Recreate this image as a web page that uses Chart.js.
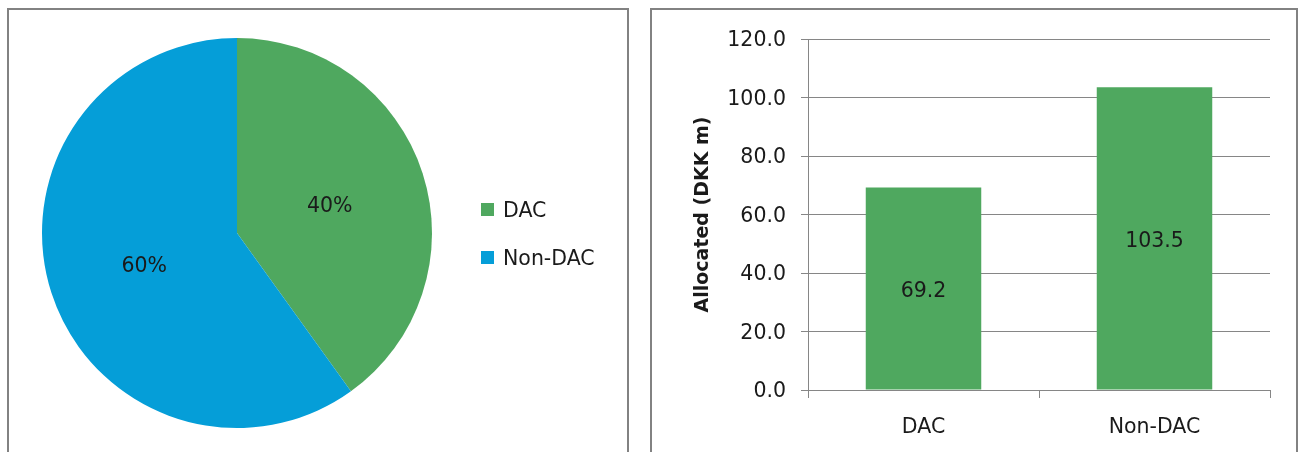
<!DOCTYPE html>
<html>
<head>
<meta charset="utf-8">
<script src="https://cdn.jsdelivr.net/npm/chart.js@4.4.0/dist/chart.umd.min.js"></script>
<style>
  body { margin: 0; background: #fff; width: 1302px; height: 452px; overflow: hidden; position: relative; }
  .panel { position: absolute; top: 8px; height: 600px; border: 2px solid #828282; box-sizing: border-box; }
  #pie_panel { left: 7px; width: 622px; }
  #bar_panel { left: 650px; width: 648px; }
  #pie_chart { position: absolute; left: 0; top: 0; }
  #bar_chart { position: absolute; left: 652px; top: 10px; }
</style>
</head>
<body>
<div class="panel" id="pie_panel"></div>
<div class="panel" id="bar_panel"></div>
<canvas id="pie_chart" width="640" height="452"></canvas>
<canvas id="bar_chart" width="644" height="442"></canvas>
<script>
// allocation split, DKK m
const categories = ['DAC', 'Non-DAC'];
const allocated = [69.2, 103.5];
const category_colors = ['#4FA85F', '#059ED8'];

// y axis range for the bar chart
const y_axis_min = 0;
const y_axis_max = 120;
const y_axis_step = 20;

const text_color = '#1a1a1a';
const grid_gray = '#868686';
const font_family = '"DejaVu Sans", sans-serif';
const label_size = 20.5;

Chart.defaults.font.family = font_family;
Chart.defaults.color = text_color;

// percentage labels sitting halfway out along each slice
const pie_percent_labels = {
    id: 'pie_percent_labels',
    afterDatasetsDraw(chart) {
        const ctx = chart.ctx;
        const data = chart.data.datasets[0].data;
        const total = data.reduce((a, b) => a + b, 0);
        ctx.save();
        ctx.font = label_size + 'px ' + font_family;
        ctx.fillStyle = text_color;
        ctx.textAlign = 'center';
        ctx.textBaseline = 'middle';
        chart.getDatasetMeta(0).data.forEach((arc, i) => {
            const pos = arc.getCenterPoint();
            ctx.fillText(Math.round(data[i] / total * 100) + '%', pos.x, pos.y + 4);
        });
        ctx.restore();
    }
};

// square-swatch legend to the right of the pie
const side_legend = {
    id: 'side_legend',
    afterDraw(chart, args, opts) {
        const ctx = chart.ctx;
        const colors = chart.data.datasets[0].backgroundColor;
        ctx.save();
        ctx.font = label_size + 'px ' + font_family;
        ctx.textAlign = 'left';
        ctx.textBaseline = 'middle';
        chart.data.labels.forEach((label, i) => {
            const y = opts.y + i * opts.gap;
            ctx.fillStyle = colors[i];
            ctx.fillRect(opts.x, y - opts.box / 2, opts.box, opts.box);
            ctx.fillStyle = text_color;
            ctx.fillText(label, opts.x + opts.box + opts.spacing, y + 2);
        });
        ctx.restore();
    }
};

// value written in the middle of each bar
const bar_value_labels = {
    id: 'bar_value_labels',
    afterDatasetsDraw(chart) {
        const ctx = chart.ctx;
        const data = chart.data.datasets[0].data;
        ctx.save();
        ctx.font = label_size + 'px ' + font_family;
        ctx.fillStyle = text_color;
        ctx.textAlign = 'center';
        ctx.textBaseline = 'middle';
        chart.getDatasetMeta(0).data.forEach((bar, i) => {
            ctx.fillText(data[i].toFixed(1), bar.x, (bar.y + bar.base) / 2 + 3);
        });
        ctx.restore();
    }
};

new Chart(document.getElementById('pie_chart'), {
    type: 'pie',
    data: {
        labels: categories,
        datasets: [{
            data: allocated,
            backgroundColor: category_colors,
            borderWidth: 0,
        }]
    },
    options: {
        responsive: false,
        animation: false,
        layout: {
            padding: { left: 42, top: 38, right: 208, bottom: 24 }
        },
        plugins: {
            legend: { display: false },
            tooltip: { enabled: false },
            side_legend: { x: 481, y: 209.5, gap: 48, box: 13, spacing: 9 }
        }
    },
    plugins: [pie_percent_labels, side_legend]
});

new Chart(document.getElementById('bar_chart'), {
    type: 'bar',
    data: {
        labels: categories,
        datasets: [{
            data: allocated,
            backgroundColor: category_colors[0],
            borderWidth: 0,
            barPercentage: 0.5,
            categoryPercentage: 1,
        }]
    },
    options: {
        responsive: false,
        animation: false,
        layout: {
            padding: { left: 0, top: 29, right: 26, bottom: 0 }
        },
        plugins: {
            legend: { display: false },
            tooltip: { enabled: false }
        },
        scales: {
            x: {
                grid: {
                    drawOnChartArea: false,
                    offset: true,
                    tickLength: 8,
                    color: grid_gray
                },
                border: { color: grid_gray },
                ticks: {
                    font: { size: label_size },
                    color: text_color,
                    padding: 17
                },
                afterFit: scale => { scale.height = 62; }
            },
            y: {
                min: y_axis_min,
                max: y_axis_max,
                grid: {
                    color: grid_gray,
                    tickLength: 7
                },
                border: { color: grid_gray },
                ticks: {
                    stepSize: y_axis_step,
                    font: { size: label_size },
                    color: text_color,
                    padding: 15,
                    labelOffset: 2,
                    callback: value => value.toFixed(1)
                },
                title: {
                    display: true,
                    text: 'Allocated (DKK m)',
                    font: { size: 19, weight: 'bold' },
                    color: text_color,
                    padding: { top: 40, bottom: 0 }
                },
                afterFit: scale => { scale.width = 156; }
            }
        }
    },
    plugins: [bar_value_labels]
});
</script>
</body>
</html>
